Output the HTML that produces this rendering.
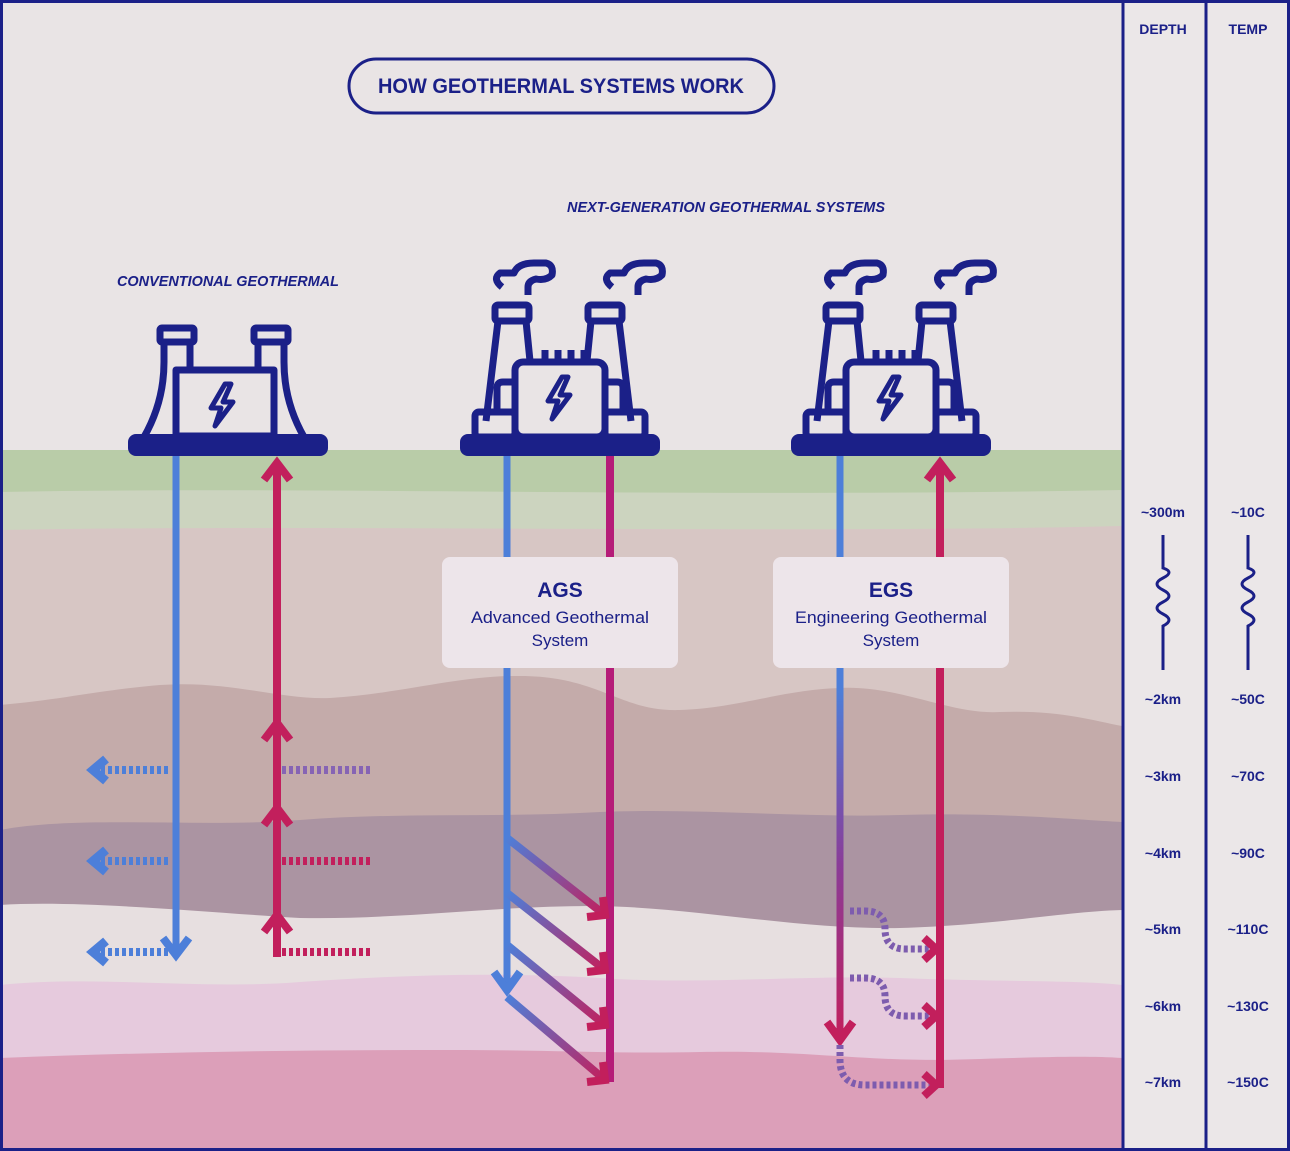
<!DOCTYPE html>
<html><head><meta charset="utf-8"><style>
html,body{margin:0;padding:0;background:#e9e4e5}
svg{display:block}
text{font-family:"Liberation Sans",sans-serif}
</style></head><body>
<svg width="1290" height="1151" viewBox="0 0 1290 1151" xmlns="http://www.w3.org/2000/svg">
<defs>
<linearGradient id="gd" x1="0" y1="0" x2="1" y2="1"><stop offset="0" stop-color="#4d7fd9"/><stop offset="1" stop-color="#c21f5c"/></linearGradient>
<linearGradient id="gv" gradientUnits="userSpaceOnUse" x1="0" y1="456" x2="0" y2="1040"><stop offset="0" stop-color="#4d7fd9"/><stop offset="0.4" stop-color="#4d7fd9"/><stop offset="0.7" stop-color="#8a3c98"/><stop offset="1" stop-color="#c21f5c"/></linearGradient>
<g id="plant2" fill="none" stroke="#1b2088" stroke-width="7" stroke-linejoin="round">
 <path d="M-58,-150 q-10,-8 -2,-14 h14 q4,-10 20,-10 h12 q8,2 6,12 q-6,6 -16,4 q-8,2 -8,8 v8"/>
 <path d="M52,-150 q-10,-8 -2,-14 h14 q4,-10 20,-10 h12 q8,2 6,12 q-6,6 -16,4 q-8,2 -8,8 v8"/>
 <rect x="-65" y="-132" width="34" height="16" rx="3"/>
 <rect x="28" y="-132" width="34" height="16" rx="3"/>
 <path d="M-62,-116 l-12,100 M-34,-116 l4,40"/>
 <path d="M31,-116 l-4,40 M59,-116 l12,100"/>
 <rect x="-45" y="-75" width="90" height="75" rx="8"/>
 <path d="M-45,-55 h-12 q-6,0 -6,6 v25 M45,-55 h12 q6,0 6,6 v25"/>
 <rect x="-85" y="-25" width="40" height="25" rx="4"/>
 <rect x="45" y="-25" width="40" height="25" rx="4"/>
 <path d="M-15,-75 v-12 M-2,-75 v-12 M11,-75 v-12 M24,-75 v-12"/>
 <path d="M2,-60 l-14,24 h10 l-6,18 l18,-24 h-10 l8,-18 z" stroke-width="5"/>
</g>
</defs>
<rect width="1290" height="1151" fill="#e9e4e5"/>
<rect x="0" y="450" width="1122" height="45" fill="#b9cca8"/>
<path d="M0,492 C300,486 700,498 1122,490 V540 H0Z" fill="#ccd4bf"/>
<path d="M0,530 C300,524 800,534 1122,526 V1151 H0Z" fill="#d7c6c4"/>
<path d="M0,705 C60,700 100,690 160,685 C230,680 280,700 330,698 C400,694 460,675 520,676 C600,676 620,712 680,710 C740,708 780,690 840,688 C900,685 950,715 1000,712 C1060,710 1090,720 1122,726 V1151 H0Z" fill="#c4abaa"/>
<path d="M0,830 C80,815 200,828 300,820 C400,812 500,818 600,812 C700,808 800,818 900,815 C1000,812 1080,820 1122,822 V1151 H0Z" fill="#ab94a2"/>
<path d="M0,905 C80,900 200,912 300,918 C400,920 500,905 600,906 C700,908 800,930 900,928 C1000,925 1060,912 1122,910 V1151 H0Z" fill="#e7dfe0"/>
<path d="M0,985 C100,975 200,990 300,982 C400,975 500,972 600,978 C700,985 800,975 900,978 C1000,982 1080,980 1122,985 V1151 H0Z" fill="#e6cadd"/>
<path d="M0,1058 C150,1052 300,1050 450,1050 C550,1050 620,1054 700,1052 C800,1050 850,1060 940,1060 C1020,1058 1080,1055 1122,1058 V1151 H0Z" fill="#dc9fb9"/>
<rect x="1122" y="0" width="168" height="1151" fill="#ebe7e8"/>
<g stroke="#1b2088" stroke-width="3" fill="none">
<rect x="1.5" y="1.5" width="1287" height="1148"/>
<line x1="1123" y1="0" x2="1123" y2="1151"/>
<line x1="1206" y1="0" x2="1206" y2="1151"/>
<path d="M1163,535 V568 q12,4 0,10 q-12,6 0,12 q12,6 0,12 q-12,6 0,12 q12,6 0,12 V670 M1248,535 V568 q12,4 0,10 q-12,6 0,12 q12,6 0,12 q-12,6 0,12 q12,6 0,12 V670"/>
</g>
<g fill="#1b2088" font-weight="bold" font-size="14" text-anchor="middle">
<text x="1163" y="34">DEPTH</text><text x="1248" y="34">TEMP</text>
<text x="1163" y="517">~300m</text><text x="1248" y="517">~10C</text>
<text x="1163" y="704">~2km</text><text x="1248" y="704">~50C</text>
<text x="1163" y="781">~3km</text><text x="1248" y="781">~70C</text>
<text x="1163" y="858">~4km</text><text x="1248" y="858">~90C</text>
<text x="1163" y="934">~5km</text><text x="1248" y="934">~110C</text>
<text x="1163" y="1011">~6km</text><text x="1248" y="1011">~130C</text>
<text x="1163" y="1087">~7km</text><text x="1248" y="1087">~150C</text>
</g>
<rect x="349" y="59" width="425" height="54" rx="27" fill="none" stroke="#1b2088" stroke-width="3"/>
<text x="561" y="93" text-anchor="middle" font-size="21" font-weight="bold" fill="#1b2088" textLength="366" lengthAdjust="spacingAndGlyphs">HOW GEOTHERMAL SYSTEMS WORK</text>
<text x="726" y="212" text-anchor="middle" font-size="15" font-weight="bold" font-style="italic" fill="#1b2088" textLength="318" lengthAdjust="spacingAndGlyphs">NEXT-GENERATION GEOTHERMAL SYSTEMS</text>
<text x="228" y="286" text-anchor="middle" font-size="15" font-weight="bold" font-style="italic" fill="#1b2088" textLength="222" lengthAdjust="spacingAndGlyphs">CONVENTIONAL GEOTHERMAL</text>
<g fill="none" stroke="#1b2088" stroke-width="7" stroke-linejoin="round">
<rect x="160" y="328" width="34" height="14" rx="2"/><rect x="254" y="328" width="34" height="14" rx="2"/>
<path d="M164,342 v20 q0,40 -20,75 M190,342 v28 M258,342 v28 M284,342 v20 q0,40 20,75"/>
<rect x="176" y="370" width="98" height="66"/>
<path d="M225,384 l-14,24 h10 l-6,18 l18,-24 h-10 l8,-18 z" stroke-width="5"/>
</g>
<rect x="128" y="434" width="200" height="22" rx="8" fill="#1b2088"/>
<use href="#plant2" x="560" y="437"/>
<rect x="460" y="434" width="200" height="22" rx="8" fill="#1b2088"/>
<use href="#plant2" x="891" y="437"/>
<rect x="791" y="434" width="200" height="22" rx="8" fill="#1b2088"/>
<g stroke-width="7" fill="none">
<line x1="176" y1="456" x2="176" y2="955" stroke="#4d7fd9"/>
<path d="M163,938 l13,17 l13,-17" stroke="#4d7fd9" stroke-width="8"/>
<line x1="277" y1="465" x2="277" y2="957" stroke="#c21f5c" stroke-width="8"/>
<g stroke="#c21f5c" stroke-width="8"><path d="M264,480 l13,-17 l13,17 M264,740 l13,-17 l13,17 M264,825 l13,-17 l13,17 M264,932 l13,-17 l13,17"/></g>
<g stroke-dasharray="4 3" stroke-width="8">
<line x1="168" y1="770" x2="100" y2="770" stroke="#4d7fd9"/>
<line x1="168" y1="861" x2="100" y2="861" stroke="#4d7fd9"/>
<line x1="168" y1="952" x2="100" y2="952" stroke="#4d7fd9"/>
<line x1="282" y1="770" x2="370" y2="770" stroke="#8664b4"/>
<line x1="282" y1="861" x2="370" y2="861" stroke="#c21f5c"/>
<line x1="282" y1="952" x2="370" y2="952" stroke="#c21f5c"/>
</g>
<g stroke="#4d7fd9" stroke-width="9"><path d="M106,759 l-13,11 l13,11 M106,850 l-13,11 l13,11 M106,941 l-13,11 l13,11"/></g>
</g>
<g fill="none" stroke-width="7">
<line x1="507" y1="456" x2="507" y2="990" stroke="#4d7fd9"/>
<path d="M494,972 l13,18 l13,-18" stroke="#4d7fd9" stroke-width="8"/>
<line x1="610" y1="456" x2="610" y2="1082" stroke="#b51c78" stroke-width="8"/>
<g stroke="url(#gd)" stroke-width="8">
<path d="M507,838 L605,915"/><path d="M507,893 L605,970"/><path d="M507,945 L605,1025"/><path d="M507,997 L605,1080"/>
</g>
<g stroke="#c21f5c" stroke-width="8"><path d="M603,897 L605,915 L587,917 M603,952 L605,970 L587,972 M603,1007 L605,1025 L587,1027 M603,1062 L605,1080 L587,1082"/></g>
</g>
<g fill="none" stroke-width="7">
<line x1="840" y1="456" x2="840" y2="1040" stroke="url(#gv)" stroke-width="7"/>
<path d="M827,1022 l13,18 l13,-18" stroke="#c21f5c" stroke-width="8"/>
<line x1="940" y1="465" x2="940" y2="1088" stroke="#c21f5c" stroke-width="8"/>
<path d="M927,480 l13,-17 l13,17" stroke="#c21f5c" stroke-width="8"/>
<g stroke-dasharray="4 3" stroke-width="7">
<path d="M850,911 h15 q20,0 20,18 q0,20 20,20 h28" stroke="#7d5cae"/>
<path d="M850,978 h15 q20,0 20,18 q0,20 20,20 h28" stroke="#7d5cae"/>
<path d="M840,1045 v15 q0,25 25,25 h68" stroke="#7d5cae"/>
</g>
<g stroke="#c21f5c" stroke-width="8"><path d="M924,938 l12,11 l-12,11 M924,1005 l12,11 l-12,11 M924,1074 l12,11 l-12,11"/></g>
</g>
<rect x="442" y="557" width="236" height="111" rx="8" fill="#ede5ea"/>
<text x="560" y="597" text-anchor="middle" font-size="21" font-weight="bold" fill="#1b2088">AGS</text>
<text x="560" y="623" text-anchor="middle" font-size="17" fill="#1b2088" textLength="178" lengthAdjust="spacingAndGlyphs">Advanced Geothermal</text>
<text x="560" y="646" text-anchor="middle" font-size="17" fill="#1b2088">System</text>
<rect x="773" y="557" width="236" height="111" rx="8" fill="#ede5ea"/>
<text x="891" y="597" text-anchor="middle" font-size="21" font-weight="bold" fill="#1b2088">EGS</text>
<text x="891" y="623" text-anchor="middle" font-size="17" fill="#1b2088" textLength="192" lengthAdjust="spacingAndGlyphs">Engineering Geothermal</text>
<text x="891" y="646" text-anchor="middle" font-size="17" fill="#1b2088">System</text>
</svg>
</body></html>
